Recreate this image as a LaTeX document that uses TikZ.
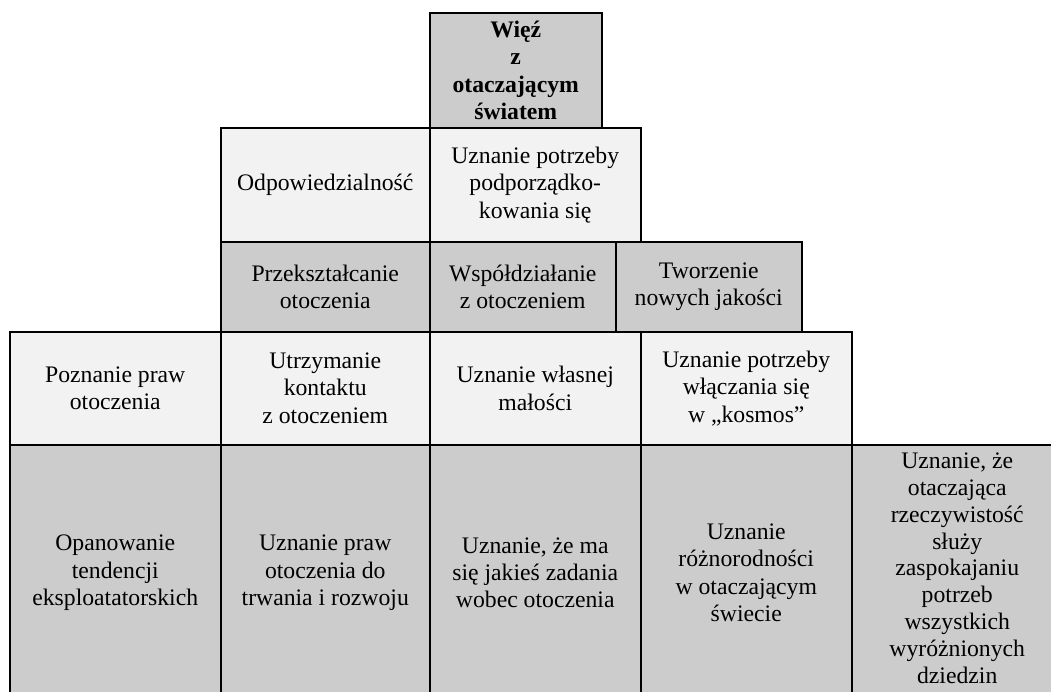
\documentclass[tikz,border=0pt]{standalone}
\usepackage{fontspec}
\setmainfont{Liberation Serif}
\definecolor{darkcell}{HTML}{CCCCCC}
\definecolor{lightcell}{HTML}{F2F2F2}
\tikzset{
  cell/.style={draw=black, line width=1.5pt, anchor=north west, inner sep=0pt,
    align=center, font=\fontsize{23.7}{27.4}\selectfont},
  dcell/.style={cell, fill=darkcell},
  lcell/.style={cell, fill=lightcell},
}
\begin{document}
\begin{tikzpicture}[x=1pt,y=-1pt]
\useasboundingbox (0,0) rectangle (1051,691);
\clip (0,0) rectangle (1051,691);
% row 1
\node[dcell, minimum width=172pt, minimum height=115pt] (r1) at (429,12)
  {\bfseries Więź\\\bfseries z\\\bfseries otaczającym\\\bfseries światem};
% row 2
\node[lcell, minimum width=209pt, minimum height=114pt] (r2a) at (220,127) {Odpowiedzialność};
\node[lcell, minimum width=211pt, minimum height=114pt] (r2b) at (429,127) {Uznanie potrzeby\\podporządko-\\kowania się};
% row 3
\node[dcell, minimum width=209pt, minimum height=90pt] (r3a) at (220,241) {Przekształcanie\\otoczenia};
\node[dcell, minimum width=186pt, minimum height=90pt] (r3b) at (429,241) {Współdziałanie\\z otoczeniem};
\node[dcell, minimum width=186pt, minimum height=90pt] (r3c) at (615,241) {Tworzenie\\nowych jakości};
% row 4
\node[lcell, minimum width=211pt, minimum height=113pt] (r4a) at (9,331) {Poznanie praw\\otoczenia};
\node[lcell, minimum width=209pt, minimum height=113pt] (r4b) at (220,331) {Utrzymanie\\kontaktu\\z otoczeniem};
\node[lcell, minimum width=211pt, minimum height=113pt] (r4c) at (429,331) {Uznanie własnej\\małości};
\node[lcell, minimum width=211pt, minimum height=113pt] (r4d) at (640,331) {Uznanie potrzeby\\włączania się\\w „kosmos”};
% row 5
\node[dcell, minimum width=211pt, minimum height=256pt] (r5a) at (9,444) {Opanowanie\\tendencji\\eksploatatorskich};
\node[dcell, minimum width=209pt, minimum height=256pt] (r5b) at (220,444) {Uznanie praw\\otoczenia do\\trwania i rozwoju};
\node[dcell, minimum width=211pt, minimum height=256pt] (r5c) at (429,444) {Uznanie, że ma\\się jakieś zadania\\wobec otoczenia};
\node[dcell, minimum width=211pt, minimum height=256pt] (r5d) at (640,444) {Uznanie\\różnorodności\\w otaczającym\\świecie};
\node[dcell, minimum width=211pt, minimum height=256pt] (r5e) at (851,444) {};
\node[cell, draw=none, minimum width=211pt, minimum height=247pt,
  font=\fontsize{23.7}{26.8}\selectfont] (r5etext) at (851,444) {Uznanie, że\\otaczająca\\rzeczywistość\\służy\\zaspokajaniu\\potrzeb\\wszystkich\\wyróżnionych\\dziedzin};
\end{tikzpicture}
\end{document}
